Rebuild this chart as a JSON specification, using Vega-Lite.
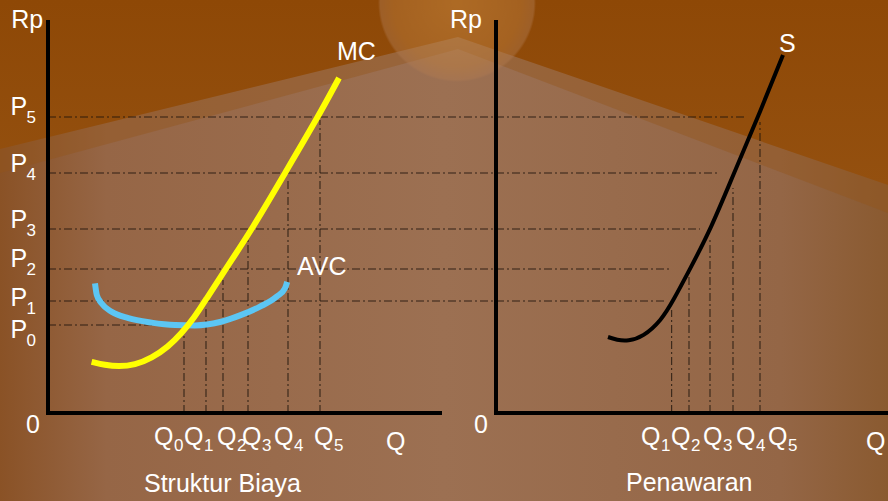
{
  "$schema": "https://vega.github.io/schema/vega-lite/v6.json",
  "width": 888,
  "height": 501,
  "autosize": "none",
  "padding": 0,
  "background": "#98694a",
  "config": {
    "view": {
      "stroke": null,
      "fill": {
        "gradient": "linear", "x1": 0, "y1": 0, "x2": 1, "y2": 0,
        "stops": [
          {"offset": 0, "color": "#8a5226"},
          {"offset": 0.12, "color": "#966646"},
          {"offset": 0.5, "color": "#9c7052"},
          {"offset": 0.88, "color": "#946646"},
          {"offset": 1, "color": "#8a5a30"}
        ]
      }
    },
    "text": {"font": "Liberation Sans"}
  },
  "datasets": {
    "sky": [
      {"band": "core", "x": -12, "y": 66, "y2": 103.25},
      {"band": "core", "x": 102.5, "y": 94, "y2": 103.25},
      {"band": "core", "x": 210, "y": 57, "y2": 103.25},
      {"band": "soft", "x": -12, "y": 60, "y2": 103.25},
      {"band": "soft", "x": 102.5, "y": 91, "y2": 103.25},
      {"band": "soft", "x": 210, "y": 50, "y2": 103.25}
    ],
    "glow": [{"x": 102.25, "y": 102.5}],
    "axes": [
      {"x": 0, "x2": 0, "y": 0, "y2": 97.75},
      {"x": 0, "x2": 98, "y": 0, "y2": 0},
      {"x": 112, "x2": 112, "y": 0, "y2": 97.75},
      {"x": 112, "x2": 210, "y": 0, "y2": 0}
    ],
    "hlines": [
      {"p": "P5", "x": 0, "x2": 174.25, "y": 74, "y2": 74},
      {"p": "P4", "x": 0, "x2": 168, "y": 60, "y2": 60},
      {"p": "P3", "x": 0, "x2": 163, "y": 46, "y2": 46},
      {"p": "P2", "x": 0, "x2": 155.75, "y": 36, "y2": 36},
      {"p": "P1", "x": 0, "x2": 154, "y": 28, "y2": 28},
      {"p": "P0", "x": 0, "x2": 34, "y": 22, "y2": 22}
    ],
    "vlines": [
      {"q": "Q0", "x": 34, "x2": 34, "y": 0, "y2": 21},
      {"q": "Q1", "x": 39.5, "x2": 39.5, "y": 0, "y2": 26.5},
      {"q": "Q2", "x": 43.75, "x2": 43.75, "y": 0, "y2": 33.25},
      {"q": "Q3", "x": 50, "x2": 50, "y": 0, "y2": 45.5},
      {"q": "Q4", "x": 60, "x2": 60, "y": 0, "y2": 58.75},
      {"q": "Q5", "x": 68, "x2": 68, "y": 0, "y2": 73.25},
      {"q": "Q1", "x": 155.9, "x2": 155.9, "y": 0, "y2": 25.75},
      {"q": "Q2", "x": 160.25, "x2": 160.25, "y": 0, "y2": 35.3},
      {"q": "Q3", "x": 165.5, "x2": 165.5, "y": 0, "y2": 43.25},
      {"q": "Q4", "x": 171.25, "x2": 171.25, "y": 0, "y2": 56.25},
      {"q": "Q5", "x": 178, "x2": 178, "y": 0, "y2": 72.75}
    ],
    "curves": [
      {"c": "MC", "x": 10.9, "y": 12.8},
      {"c": "MC", "x": 14.25, "y": 12.0},
      {"c": "MC", "x": 17.6, "y": 11.6},
      {"c": "MC", "x": 21.75, "y": 12.0},
      {"c": "MC", "x": 25.9, "y": 13.7},
      {"c": "MC", "x": 30.1, "y": 16.6},
      {"c": "MC", "x": 33.4, "y": 19.9},
      {"c": "MC", "x": 36.75, "y": 24.1},
      {"c": "MC", "x": 39.25, "y": 28},
      {"c": "MC", "x": 44.4, "y": 36},
      {"c": "MC", "x": 50.9, "y": 45.75},
      {"c": "MC", "x": 59.25, "y": 60},
      {"c": "MC", "x": 67.5, "y": 74},
      {"c": "MC", "x": 72.75, "y": 83.75},
      {"c": "AVC", "x": 11.75, "y": 32.4},
      {"c": "AVC", "x": 12.2, "y": 29.5},
      {"c": "AVC", "x": 13.4, "y": 27.4},
      {"c": "AVC", "x": 15.9, "y": 25.3},
      {"c": "AVC", "x": 20.1, "y": 23.7},
      {"c": "AVC", "x": 25.9, "y": 22.6},
      {"c": "AVC", "x": 31.75, "y": 22},
      {"c": "AVC", "x": 36.75, "y": 21.9},
      {"c": "AVC", "x": 43, "y": 22.75},
      {"c": "AVC", "x": 48, "y": 24.4},
      {"c": "AVC", "x": 53, "y": 26.6},
      {"c": "AVC", "x": 57.2, "y": 29.1},
      {"c": "AVC", "x": 59.25, "y": 31.2},
      {"c": "AVC", "x": 59.8, "y": 32.8},
      {"c": "S", "x": 140, "y": 19},
      {"c": "S", "x": 142.25, "y": 18.25},
      {"c": "S", "x": 145, "y": 18},
      {"c": "S", "x": 148.75, "y": 19},
      {"c": "S", "x": 153.4, "y": 23.25},
      {"c": "S", "x": 156.25, "y": 28},
      {"c": "S", "x": 160.5, "y": 36},
      {"c": "S", "x": 165.7, "y": 46},
      {"c": "S", "x": 171.5, "y": 60},
      {"c": "S", "x": 177.5, "y": 74},
      {"c": "S", "x": 183.75, "y": 89.5}
    ],
    "labels": [
      {"t": "Rp", "s": "", "x": -9.2, "y": 96.25},
      {"t": "Rp", "s": "", "x": 100.5, "y": 96.25},
      {"t": "P", "s": "5", "x": -9.4, "y": 74.5},
      {"t": "P", "s": "4", "x": -9.4, "y": 60.25},
      {"t": "P", "s": "3", "x": -9.4, "y": 46.25},
      {"t": "P", "s": "2", "x": -9.4, "y": 36.5},
      {"t": "P", "s": "1", "x": -9.4, "y": 26.75},
      {"t": "P", "s": "0", "x": -9.4, "y": 18.75},
      {"t": "0", "s": "", "x": -5.5, "y": -5},
      {"t": "0", "s": "", "x": 106.5, "y": -5},
      {"t": "Q", "s": "0", "x": 26.5, "y": -8},
      {"t": "Q", "s": "1", "x": 34, "y": -8},
      {"t": "Q", "s": "2", "x": 42.25, "y": -8},
      {"t": "Q", "s": "3", "x": 48.5, "y": -8},
      {"t": "Q", "s": "4", "x": 56.5, "y": -8},
      {"t": "Q", "s": "5", "x": 66.5, "y": -8},
      {"t": "Q", "s": "", "x": 84.5, "y": -9.25},
      {"t": "Q", "s": "1", "x": 148.25, "y": -8},
      {"t": "Q", "s": "2", "x": 155.75, "y": -8},
      {"t": "Q", "s": "3", "x": 163.75, "y": -8},
      {"t": "Q", "s": "4", "x": 172, "y": -8},
      {"t": "Q", "s": "5", "x": 180, "y": -8},
      {"t": "Q", "s": "", "x": 204.5, "y": -9.25},
      {"t": "Struktur Biaya", "s": "", "x": 24, "y": -19.75},
      {"t": "Penawaran", "s": "", "x": 144.5, "y": -19.5},
      {"t": "MC", "s": "", "x": 72.25, "y": 88.25},
      {"t": "AVC", "s": "", "x": 62.25, "y": 34.5},
      {"t": "S", "s": "", "x": 182.75, "y": 90.25}
    ]
  },
  "encoding": {
    "x": {"field": "x", "type": "quantitative", "scale": {"domain": [-12, 210], "nice": false, "zero": false}, "axis": null},
    "y": {"field": "y", "type": "quantitative", "scale": {"domain": [-22, 103.25], "nice": false, "zero": false}, "axis": null}
  },
  "layer": [
    {
      "data": {"name": "sky"},
      "transform": [{"filter": "datum.band == 'soft'"}],
      "mark": {"type": "area", "color": "#93541a", "opacity": 0.4},
      "encoding": {"y2": {"field": "y2"}}
    },
    {
      "data": {"name": "sky"},
      "transform": [{"filter": "datum.band == 'core'"}],
      "mark": {
        "type": "area",
        "opacity": 1,
        "color": {
          "gradient": "linear", "x1": 0, "y1": 0, "x2": 0, "y2": 1,
          "stops": [
            {"offset": 0, "color": "#8e4806"},
            {"offset": 1, "color": "#94500f"}
          ]
        }
      },
      "encoding": {"y2": {"field": "y2"}}
    },
    {
      "data": {"name": "glow"},
      "mark": {
        "type": "point", "shape": "circle", "filled": true, "size": 25000, "opacity": 0.45,
        "fill": {
          "gradient": "radial", "x1": 0.5, "y1": 0.5, "r1": 0, "x2": 0.5, "y2": 0.5, "r2": 0.5,
          "stops": [
            {"offset": 0, "color": "#d4944a"},
            {"offset": 0.8, "color": "#bf8040"},
            {"offset": 0.97, "color": "#b07a50"},
            {"offset": 1, "color": "rgba(176,122,80,0)"}
          ]
        }
      }
    },
    {
      "data": {"name": "hlines"},
      "mark": {"type": "rule", "color": "#1e140c", "strokeWidth": 1.2, "strokeDash": [8, 3, 2, 3], "opacity": 0.85},
      "encoding": {"x2": {"field": "x2"}, "y2": {"field": "y2"}}
    },
    {
      "data": {"name": "vlines"},
      "mark": {"type": "rule", "color": "#1e140c", "strokeWidth": 1.2, "strokeDash": [8, 3, 2, 3], "opacity": 0.75},
      "encoding": {"x2": {"field": "x2"}, "y2": {"field": "y2"}}
    },
    {
      "data": {"name": "axes"},
      "mark": {"type": "rule", "color": "#000000", "strokeWidth": 4, "strokeCap": "square"},
      "encoding": {"x2": {"field": "x2"}, "y2": {"field": "y2"}}
    },
    {
      "data": {"name": "curves"},
      "transform": [{"filter": "datum.c == 'AVC'"}],
      "mark": {"type": "line", "color": "#5cc6f4", "strokeWidth": 6, "interpolate": "monotone", "strokeCap": "butt"}
    },
    {
      "data": {"name": "curves"},
      "transform": [{"filter": "datum.c == 'MC'"}],
      "mark": {"type": "line", "color": "#ffff00", "strokeWidth": 6, "interpolate": "basis", "strokeCap": "butt"}
    },
    {
      "data": {"name": "curves"},
      "transform": [{"filter": "datum.c == 'S'"}],
      "mark": {"type": "line", "color": "#000000", "strokeWidth": 4, "interpolate": "basis", "strokeCap": "butt"}
    },
    {
      "data": {"name": "labels"},
      "mark": {"type": "text", "color": "#ffffff", "fontSize": 25, "align": "left", "baseline": "alphabetic"},
      "encoding": {"text": {"field": "t"}}
    },
    {
      "data": {"name": "labels"},
      "transform": [{"filter": "datum.t == 'P' && datum.s != ''"}],
      "mark": {"type": "text", "color": "#ffffff", "fontSize": 17, "align": "left", "baseline": "alphabetic", "dx": 16, "dy": 8},
      "encoding": {"text": {"field": "s"}}
    },
    {
      "data": {"name": "labels"},
      "transform": [{"filter": "datum.t == 'Q' && datum.s != ''"}],
      "mark": {"type": "text", "color": "#ffffff", "fontSize": 17, "align": "left", "baseline": "alphabetic", "dx": 20, "dy": 6},
      "encoding": {"text": {"field": "s"}}
    }
  ]
}
